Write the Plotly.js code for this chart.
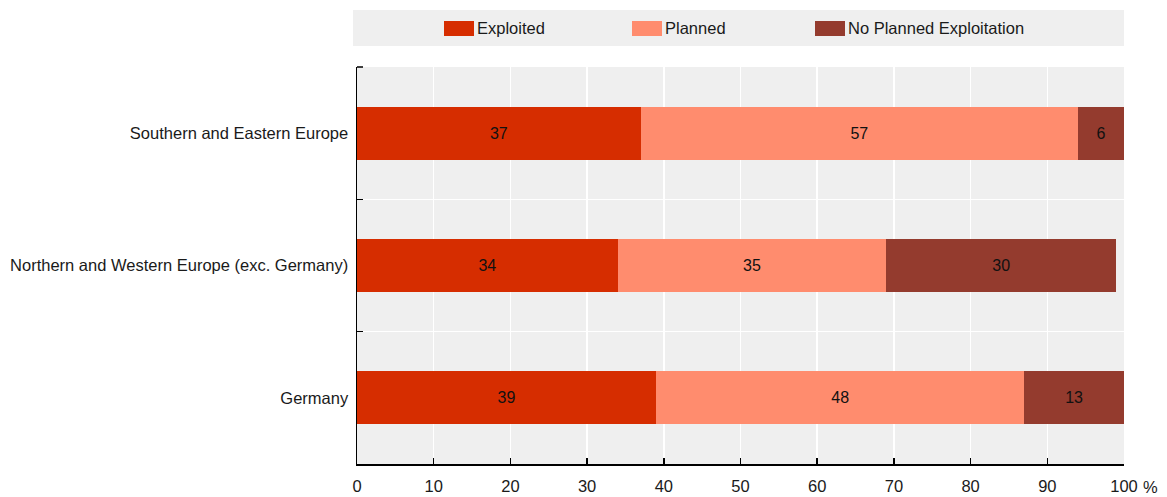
<!DOCTYPE html>
<html>
<head>
<meta charset="utf-8">
<script src="https://cdn.plot.ly/plotly-3.0.1.min.js"></script>
<style>html,body{margin:0;padding:0;background:#fff;}#chart{width:1167px;height:497px;}</style>
</head>
<body>
<div id="chart"></div>
<script>
var categories = ["Germany", "Northern and Western Europe (exc. Germany)", "Southern and Eastern Europe"];
var seriesNames = ["Exploited", "Planned", "No Planned Exploitation"];
var exploited = [39, 34, 37];
var planned = [48, 35, 57];
var noPlanned = [13, 30, 6];
var xTicks = [0, 10, 20, 30, 40, 50, 60, 70, 80, 90, 100];

var colors = ["#D62D00", "#FF8C6E", "#943B2E"];
var FONT = "'Liberation Sans', Arial, sans-serif";
var values = [exploited, planned, noPlanned];

var traces = values.map(function (v, i) {
  return {
    type: "bar",
    orientation: "h",
    name: seriesNames[i],
    y: categories,
    x: v,
    width: 0.4,
    marker: {color: colors[i], line: {width: 0}},
    text: v.map(String),
    textposition: "inside",
    insidetextanchor: "middle",
    constraintext: "none",
    textangle: 0,
    textfont: {family: FONT, size: 16, color: "#111111"},
    hoverinfo: "x+y+name"
  };
});

var shapes = [{
  type: "rect", xref: "paper", yref: "paper",
  x0: -4 / 767, x1: 1, y0: (464 - 46) / 397, y1: (464 - 10) / 397,
  fillcolor: "#EFEFEF", line: {width: 0}, layer: "below"
}, {
  type: "line", xref: "paper", yref: "paper",
  x0: 0, x1: 6 / 767, y0: 1, y1: 1,
  line: {color: "#000", width: 1.5}
}];
var annotations = [];
var swatchX = [444, 632, 815];
for (var i = 0; i < seriesNames.length; i++) {
  var x0 = (swatchX[i] - 357) / 767;
  var x1 = (swatchX[i] + 30 - 357) / 767;
  shapes.push({
    type: "rect", xref: "paper", yref: "paper",
    x0: x0, x1: x1, y0: (464 - 36) / 397, y1: (464 - 21) / 397,
    fillcolor: colors[i], line: {width: 0}
  });
  annotations.push({
    xref: "paper", yref: "paper", x: (swatchX[i] + 31 - 357) / 767, y: (464 - 28.5) / 397,
    xanchor: "left", yanchor: "middle", showarrow: false,
    text: seriesNames[i], font: {family: FONT, size: 16.5, color: "#1a1a1a"}
  });
}
annotations.push({
  xref: "paper", yref: "paper", x: (1141 - 357) / 767, y: 0, yshift: -23,
  xanchor: "left", yanchor: "middle", showarrow: false,
  text: "%", font: {family: FONT, size: 16.5, color: "#1a1a1a"}
});

var layout = {
  width: 1167, height: 497,
  margin: {l: 357, r: 43, t: 67, b: 33, pad: 0},
  paper_bgcolor: "#FFFFFF",
  plot_bgcolor: "#EFEFEF",
  barmode: "stack",
  showlegend: false,
  font: {family: FONT, size: 16.5, color: "#1a1a1a"},
  xaxis: {
    range: [0, 100],
    tickvals: xTicks,
    ticktext: xTicks.map(String),
    ticks: "inside", ticklen: 6, tickwidth: 1.5, tickcolor: "#000",
    showline: true, linecolor: "#000", linewidth: 1.5,
    showgrid: true, gridcolor: "#FFFFFF", gridwidth: 1.5,
    zeroline: false,
    ticklabelstandoff: 7,
    tickfont: {family: FONT, size: 16.5, color: "#1a1a1a"},
    fixedrange: true
  },
  yaxis: {
    type: "category",
    categoryorder: "array", categoryarray: categories,
    tickson: "boundaries",
    ticks: "inside", ticklen: 6, tickwidth: 1.5, tickcolor: "#000",
    showline: true, linecolor: "#000", linewidth: 1.5,
    showgrid: true, gridcolor: "#FFFFFF", gridwidth: 1.5,
    zeroline: false,
    ticklabelstandoff: 4,
    tickfont: {family: FONT, size: 16.5, color: "#1a1a1a"},
    fixedrange: true
  },
  shapes: shapes,
  annotations: annotations
};

Plotly.newPlot("chart", traces, layout, {displayModeBar: false, staticPlot: true});
</script>
</body>
</html>
